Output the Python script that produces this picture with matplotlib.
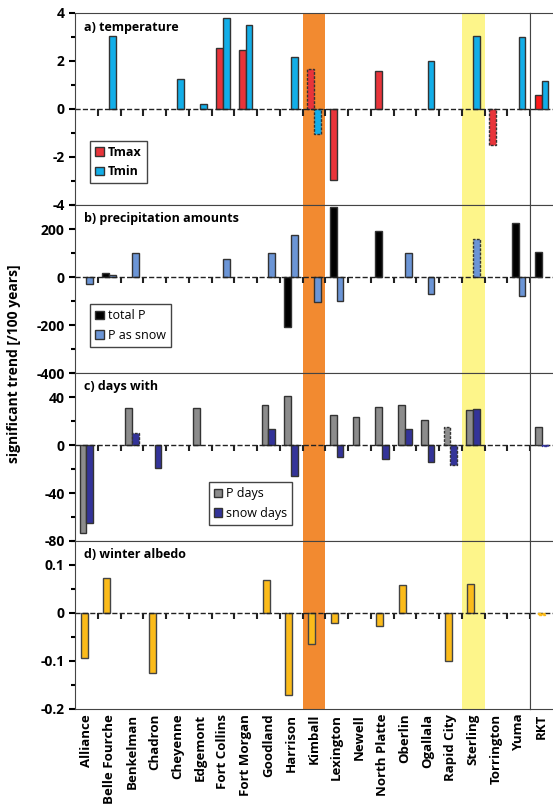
import numpy as np
import matplotlib.pyplot as plt
from matplotlib.patches import Patch

stations = ['Alliance', 'Belle Fourche', 'Benkelman', 'Chadron', 'Cheyenne', 'Edgemont',
            'Fort Collins', 'Fort Morgan', 'Goodland', 'Harrison', 'Kimball', 'Lexington',
            'Newell', 'North Platte', 'Oberlin', 'Ogallala', 'Rapid City', 'Sterling',
            'Torrington', 'Yuma']

tmax = [0, 0, 0, 0, 0, 0, 2.55, 2.45, 0, 0, 1.65, -2.95, 0, 1.6, 0, 0, 0, 0, -1.5, 0]
tmin = [0, 3.05, 0, 0, 1.25, 0.2, 3.8, 3.5, 0, 2.15, -1.05, 0, 0, 0, 0, 2.0, 0, 3.05, 0, 3.0]
tmax_dash = ['Kimball', 'Torrington']
tmin_dash = ['Kimball']
rkt_t = [0.6, 1.15]

ptot = [0, 15, 0, 0, 0, 0, 0, 0, 0, -210, 0, 290, 0, 190, 0, 0, 0, 0, 0, 225]
psnow = [-30, 10, 100, 0, 0, 0, 75, 0, 100, 175, -105, -100, 0, 0, 100, -70, 0, 160, 0, -80]
psnow_dash = ['Sterling']
rkt_p = [105, 0]

pdays = [-73, 0, 31, 0, 0, 31, 0, 0, 33, 41, 0, 25, 23, 32, 33, 21, 15, 29, 0, 0]
sdays = [-65, 0, 10, -19, 0, 0, 0, 0, 13, -26, 0, -10, 0, -12, 13, -14, -17, 30, 0, 0]
pdays_dash = ['Rapid City']
sdays_dash = ['Benkelman', 'Rapid City']
rkt_d = [15, -1]

albedo = [-0.093, 0.072, 0, -0.125, 0, 0, 0, 0, 0.068, -0.17, -0.065, -0.02, 0, -0.028,
          0.058, 0, -0.1, 0.06, 0, 0]
rkt_alb = -0.005

fig = plt.figure(figsize=(5.53, 8.08), dpi=100)
plt.rcParams['font.family'] = 'Open Sans'
plt.rcParams['font.weight'] = 'bold'

L, R, W2 = 75 / 553, 530 / 553, 30 / 553
tops = [13, 205, 373, 541, 709]
def ypos(t, b):
    return 1 - b / 808, (b - t) / 808

x = np.arange(len(stations))
bw = 0.3

def pair(ax, a, b, ca, cb, da, db):
    for i in x:
        for off, v, c, dash in ((-bw / 2, a[i], ca, da), (bw / 2, b[i], cb, db)):
            if v == 0:
                continue
            ls = (0, (2, 1)) if stations[i] in dash else '-'
            ax.bar(i + off, v, bw, color=c, edgecolor='#333333',
                   linewidth=1, linestyle=ls, zorder=3)

axes = []
rkts = []
panels = [(4, -4, [-4, -2, 0, 2, 4], ['-4', '-2', '0', '2', '4'], 'a) temperature'),
          (300, -400, [-400, -200, 0, 200], ['-400', '-200', '0', '200'], 'b) precipitation amounts'),
          (60, -80, [-80, -40, 0, 40], ['-80', '-40', '0', '40'], 'c) days with'),
          (0.15, -0.2, [-0.2, -0.1, 0, 0.1], ['-0.2', '-0.1', '0', '0.1'], 'd) winter albedo')]
for k, (top, bot, ticks, tl, title) in enumerate(panels):
    y0, h = ypos(tops[k], tops[k + 1])
    ax = fig.add_axes([L, y0, R - L, h])
    ax.set_xlim(-0.5, len(stations) - 0.5)
    ax.set_ylim(bot, top)
    ax.set_yticks(ticks)
    ax.set_yticklabels(tl)
    ax.set_yticks(np.arange(bot, top + 1e-9, (ticks[1] - ticks[0]) / 2), minor=True)
    ax.tick_params(axis='y', direction='out', width=1.5, length=4, labelsize=10)
    ax.tick_params(axis='y', which='minor', direction='out', width=1.5, length=3)
    ax.set_xticks([])
    ax.axhline(0, color='#222222', ls='--', lw=1, zorder=4)
    rng = top - bot
    ax.vlines(np.arange(len(stations)) + 0.5, -0.035 * rng, 0, color='#222222', lw=1.5, zorder=4)
    ax.axvspan(9.5, 10.5, color='#f28a30', zorder=1, lw=0)
    ax.axvspan(16.5, 17.5, color='#fdf58a', zorder=1, lw=0)
    ax.text(0.02, 0.96, title, transform=ax.transAxes, fontsize=9, fontweight='bold', va='top')
    for s in ax.spines.values():
        s.set_color('#444444')
    axr = fig.add_axes([R, y0, W2, h])
    axr.set_xlim(-0.5, 0.8)
    axr.set_ylim(bot, top)
    axr.set_yticks([])
    axr.set_xticks([])
    axr.axhline(0, color='#222222', ls='--', lw=1)
    for s in axr.spines.values():
        s.set_color('#444444')
    axes.append(ax)
    rkts.append(axr)

leg_kw = dict(loc='lower left', fancybox=False, edgecolor='#444444', handlelength=0.7,
              handletextpad=0.3, framealpha=1)

pair(axes[0], tmax, tmin, '#e8343a', '#12aee8', tmax_dash, tmin_dash)
rkts[0].bar([-bw / 2, bw / 2], rkt_t, bw, color=['#ff1a1a', '#12aee8'], edgecolor='#333333', zorder=3)
axes[0].legend(handles=[Patch(fc='#e8343a', ec='#333333', label='Tmax'),
                        Patch(fc='#12aee8', ec='#333333', label='Tmin')],
               bbox_to_anchor=(0.02, 0.08), fontsize=9, **leg_kw)

pair(axes[1], ptot, psnow, '#000000', '#6b95d6', [], psnow_dash)
rkts[1].bar([-bw / 2], [rkt_p[0]], bw, color='#000000', edgecolor='#333333', zorder=3)
axes[1].legend(handles=[Patch(fc='#000000', ec='#333333', label='total P'),
                        Patch(fc='#6b95d6', ec='#333333', label='P as snow')],
               bbox_to_anchor=(0.02, 0.12), prop={'size': 9, 'weight': 'normal'}, **leg_kw)

pair(axes[2], pdays, sdays, '#8c8c8c', '#333399', pdays_dash, sdays_dash)
rkts[2].bar([-bw / 2], [rkt_d[0]], bw, color='#8c8c8c', edgecolor='#333333', zorder=3)
rkts[2].bar([bw / 2], [rkt_d[1]], bw, color='#333399', edgecolor='#333399', ls=(0, (2, 1)), zorder=3)
axes[2].legend(handles=[Patch(fc='#8c8c8c', ec='#333333', label='P days'),
                        Patch(fc='#333399', ec='#333333', label='snow days')],
               bbox_to_anchor=(0.28, 0.06), prop={'size': 9, 'weight': 'normal'}, **leg_kw)

for i in x:
    if albedo[i] != 0:
        axes[3].bar(i - 0.1, albedo[i], bw, color='#fbbb1a', edgecolor='#444444', lw=1, zorder=3)
rkts[3].bar([0], [rkt_alb], bw, color='#fbbb1a', edgecolor='#fbbb1a', ls=(0, (2, 1)), zorder=3)

axes[3].set_xticks(x)
axes[3].set_xticklabels(stations, rotation=90, fontsize=9.5, fontweight='bold')
axes[3].tick_params(axis='x', length=0)
rkts[3].set_xticks([0])
rkts[3].set_xticklabels(['RKT'], rotation=90, fontsize=9.5, fontweight='bold')
rkts[3].tick_params(axis='x', length=0)

fig.text(0.012, 0.55, 'significant trend [/100 years]', rotation=90, va='center',
         fontsize=10, fontweight='bold')

fig.savefig('out.png', dpi=100)
